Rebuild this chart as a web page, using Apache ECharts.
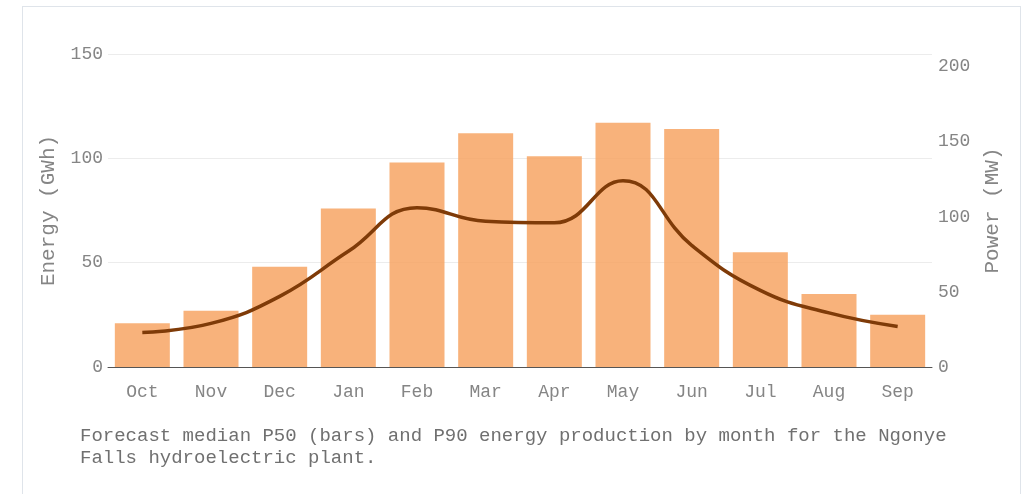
<!DOCTYPE html>
<html>
<head>
<meta charset="utf-8">
<script src="https://cdn.jsdelivr.net/npm/echarts@6/dist/echarts.min.js"></script>
<style>
  html, body { margin: 0; padding: 0; background: #fff; }
  #frame {
    position: absolute; left: 22px; top: 6px; width: 999px; height: 500px;
    border: 1px solid #dfe4ea; box-sizing: border-box;
  }
  #main { position: absolute; left: 0; top: 0; width: 1022px; height: 494px; }
</style>
</head>
<body>
<div id="frame"></div>
<div id="main"></div>
<script>
// months, Oct -> Sep
const months = ["Oct", "Nov", "Dec", "Jan", "Feb", "Mar", "Apr", "May", "Jun", "Jul", "Aug", "Sep"];
// P50 energy (GWh), bars
const energyP50 = [21, 27, 48, 76, 98, 112, 101, 117, 114, 55, 35, 25];
// P90 power (MW), line
const powerP90 = [23, 29, 47, 77, 106, 97, 96, 124, 81, 51, 36, 27];

const energyTicks = [0, 50, 100, 150];
const powerTicks = [0, 50, 100, 150, 200];

const mono = "'Liberation Mono', 'DejaVu Sans Mono', monospace";
const grey = "#858585";

let chart = echarts.init(document.getElementById("main"));

chart.setOption({
    backgroundColor: "transparent",
    animation: false,
    textStyle: { fontFamily: mono },
    grid: { left: 108, right: 90, top: 54, bottom: 127 },
    xAxis: {
        type: "category",
        data: months,
        axisLine: { lineStyle: { color: "#555", width: 1 } },
        axisTick: { alignWithLabel: true, length: 6, lineStyle: { color: "#555" } },
        axisLabel: { color: grey, fontFamily: mono, fontSize: 18, margin: 16 }
    },
    yAxis: [
        {
            type: "value",
            name: "Energy (GWh)",
            nameLocation: "middle",
            nameGap: 49,
            nameTextStyle: { color: grey, fontFamily: mono, fontSize: 21 },
            min: energyTicks[0],
            max: energyTicks[energyTicks.length - 1],
            interval: 50,
            axisLine: { show: false },
            axisTick: { show: false },
            axisLabel: { color: grey, fontFamily: mono, fontSize: 18, margin: 5 },
            splitLine: { lineStyle: { color: "#ececec" } }
        },
        {
            type: "value",
            name: "Power (MW)",
            nameLocation: "middle",
            nameGap: 50,
            nameTextStyle: { color: grey, fontFamily: mono, fontSize: 21 },
            min: powerTicks[0],
            max: 150 * 1000 / 720,
            interval: 50,
            axisLine: { show: false },
            axisTick: { show: false },
            axisLabel: { color: grey, fontFamily: mono, fontSize: 18, margin: 6, showMaxLabel: false },
            splitLine: { show: false }
        }
    ],
    series: [
        {
            type: "bar",
            data: energyP50,
            barWidth: 55,
            itemStyle: { color: "rgba(247,165,100,0.85)" }
        },
        {
            type: "line",
            yAxisIndex: 1,
            data: powerP90,
            smooth: 0.45,
            symbol: "none",
            lineStyle: { color: "#7f3b08", width: 3.5 }
        }
    ],
    graphic: [{
        type: "text",
        left: 80,
        top: 425,
        style: {
            text: "Forecast median P50 (bars) and P90 energy production by month for the Ngonye\nFalls hydroelectric plant.",
            font: "19px " + mono,
            fill: "#707070",
            lineHeight: 22
        }
    }]
});
</script>
</body>
</html>
